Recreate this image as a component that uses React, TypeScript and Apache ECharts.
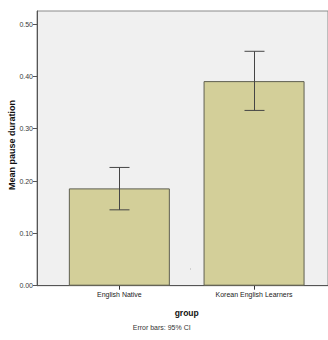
import React, { useEffect, useRef } from "react";
import * as echarts from "echarts";

const categories = ["English Native", "Korean English Learners"];
const meanValues = [0.186, 0.391];
const ciLow = [0.145, 0.335];
const ciHigh = [0.226, 0.448];
const yTicks = [0, 0.1, 0.2, 0.3, 0.4, 0.5];

const NARROW = '"Liberation Sans Narrow", "Arial Narrow", "Liberation Sans", Arial, sans-serif';
const ARIAL = '"Liberation Sans", Arial, sans-serif';

export default function App() {
  const ref = useRef<HTMLDivElement>(null);
  useEffect(() => {
    if (!ref.current) return;
    const chart = echarts.init(ref.current, null, { renderer: "svg" });
    const top = 11;
    const bottom = 54.3;
    const yMax = 0.525;
    chart.setOption({
      animation: false,
      grid: [
        {
          left: 37,
          top,
          right: -12,
          bottom,
          show: true,
          backgroundColor: "#f0f0f0",
          borderColor: "#8a8a8a",
          borderWidth: 1,
        },
        { left: 52, top, width: 269.4, bottom },
      ],
      xAxis: [
        {
          gridIndex: 0,
          type: "value",
          min: 0,
          max: 1,
          axisLine: { show: true, lineStyle: { color: "#555", width: 1 } },
          axisTick: { show: false },
          axisLabel: { show: false },
          splitLine: { show: false },
        },
        {
          gridIndex: 1,
          type: "category",
          data: categories,
          axisLine: { show: false },
          axisTick: { show: true, alignWithLabel: true, length: 4, lineStyle: { color: "#333" } },
          axisLabel: { fontFamily: NARROW, fontSize: 7, color: "#222", margin: 5.5 },
          splitLine: { show: false },
        },
      ],
      yAxis: [
        {
          gridIndex: 0,
          type: "value",
          min: 0,
          max: yMax,
          axisLine: { show: true, lineStyle: { color: "#555", width: 1 } },
          axisTick: { show: true, length: 4, lineStyle: { color: "#555" }, customValues: yTicks },
          axisLabel: {
            fontFamily: NARROW,
            fontSize: 7,
            color: "#3a3a3a",
            margin: 4,
            customValues: yTicks,
            formatter: (v: number) => v.toFixed(2),
          },
          splitLine: { show: false },
        },
        {
          gridIndex: 1,
          type: "value",
          min: 0,
          max: yMax,
          show: false,
        },
      ],
      series: [
        {
          type: "bar",
          xAxisIndex: 1,
          yAxisIndex: 1,
          data: meanValues,
          barWidth: 101,
          itemStyle: { color: "#d3cf99", borderColor: "#5f5f50", borderWidth: 1 },
        },
        {
          type: "custom",
          xAxisIndex: 1,
          yAxisIndex: 1,
          data: categories.map((_, i) => [i, ciLow[i], ciHigh[i]]),
          renderItem: (params: any, api: any) => {
            const lo = api.coord([api.value(0), api.value(1)]);
            const hi = api.coord([api.value(0), api.value(2)]);
            const x = Math.round(lo[0]) + 0.5;
            const half = 10;
            const style = { stroke: "#454545", lineWidth: 1 };
            return {
              type: "group",
              children: [
                { type: "line", shape: { x1: x, y1: hi[1], x2: x, y2: lo[1] }, style },
                { type: "line", shape: { x1: x - half, y1: hi[1], x2: x + half, y2: hi[1] }, style },
                { type: "line", shape: { x1: x - half, y1: lo[1], x2: x + half, y2: lo[1] }, style },
              ],
            };
          },
          z: 5,
        },
      ],
      graphic: [
        {
          type: "text",
          x: 12,
          y: 145,
          rotation: Math.PI / 2,
          style: {
            text: "Mean pause duration",
            fontFamily: ARIAL,
            fontWeight: "bold",
            fontSize: 9,
            fill: "#111",
            align: "center",
            verticalAlign: "middle",
          },
        },
        {
          type: "text",
          x: 186.7,
          y: 312.5,
          style: {
            text: "group",
            fontFamily: ARIAL,
            fontWeight: "bold",
            fontSize: 8.5,
            fill: "#111",
            align: "center",
            verticalAlign: "middle",
          },
        },
        {
          type: "text",
          x: 161.7,
          y: 327,
          style: {
            text: "Error bars: 95% CI",
            fontFamily: NARROW,
            fontSize: 7,
            fill: "#333",
            align: "center",
            verticalAlign: "middle",
          },
        },
        {
          type: "rect",
          shape: { x: 190, y: 268.5, width: 1, height: 1 },
          style: { fill: "#b0b0b0" },
        },
      ],
    });
    return () => chart.dispose();
  }, []);
  return (
    <div
      ref={ref}
      style={{ position: "fixed", left: 0, top: 0, width: 328, height: 340, background: "#fff" }}
    />
  );
}
